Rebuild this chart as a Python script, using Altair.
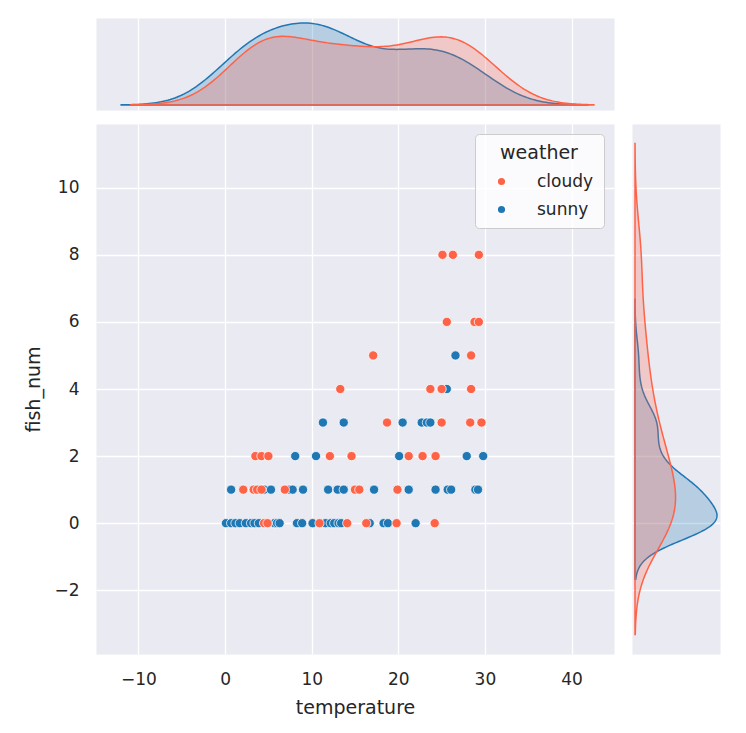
import altair as alt
import numpy as np
import pandas as pd

# scatter values
cloudy_temp = [25.1, 26.3, 29.3, 25.6, 28.8, 29.3, 17.1, 28.4, 13.3, 23.7, 25.0, 28.4,
               18.7, 25.0, 28.3, 29.6, 3.5, 4.2, 5.0, 12.1, 14.6, 21.2, 22.8, 24.3,
               2.1, 3.3, 3.7, 4.2, 6.9, 15.0, 15.5, 19.9,
               4.5, 4.9, 10.9, 14.1, 16.3, 19.8, 24.2]
cloudy_fish = [8, 8, 8, 6, 6, 6, 5, 5, 4, 4, 4, 4,
               3, 3, 3, 3, 2, 2, 2, 2, 2, 2, 2, 2,
               1, 1, 1, 1, 1, 1, 1, 1,
               0, 0, 0, 0, 0, 0, 0]
# cloudy points hidden under sunny ones (estimated from the marginal curves)
cloudy_hidden_temp = [3.0, 5.7, 6.3, 8.3, 8.9, 10.1, 12.2]
cloudy_hidden_fish = [0, 0, 0, 0, 0, 0, 0]
sunny_temp = [26.6, 25.6,
              11.3, 13.7, 20.5, 22.7, 23.3, 23.7,
              8.1, 10.5, 20.1, 27.9, 29.8,
              0.7, 4.5, 5.3, 7.5, 7.8, 9.0, 11.9, 13.0, 13.7, 17.2, 21.2, 24.3,
              25.7, 26.1, 28.9, 29.2,
              0.1, 0.7, 1.2, 1.7, 2.4, 3.0, 3.4, 3.9, 5.7, 6.0, 6.3, 8.3, 8.9,
              10.1, 11.6, 12.2, 12.6, 13.1, 13.4, 16.7, 18.3, 18.8, 22.0]
sunny_fish = [5, 4,
              3, 3, 3, 3, 3, 3,
              2, 2, 2, 2, 2,
              1, 1, 1, 1, 1, 1, 1, 1, 1, 1, 1, 1,
              1, 1, 1, 1,
              0, 0, 0, 0, 0, 0, 0, 0, 0, 0, 0, 0, 0,
              0, 0, 0, 0, 0, 0, 0, 0, 0, 0]

weather_order = ["cloudy", "sunny"]
palette = ["tomato", "#1f77b4"]
x_ticks = [-10, 0, 10, 20, 30, 40]
y_ticks = [-2, 0, 2, 4, 6, 8, 10]

df = pd.concat([
    pd.DataFrame({"temperature": cloudy_hidden_temp, "fish_num": cloudy_hidden_fish, "weather": "cloudy"}),
    pd.DataFrame({"temperature": sunny_temp, "fish_num": sunny_fish, "weather": "sunny"}),
    pd.DataFrame({"temperature": cloudy_temp, "fish_num": cloudy_fish, "weather": "cloudy"}),
], ignore_index=True)

x_scale = alt.Scale(domain=[-14.9, 44.9], nice=False, zero=False)
y_scale = alt.Scale(domain=[-3.9, 11.9], nice=False, zero=False)
FONT = "DejaVu Sans"


def scott_bw(values):
    # same rule as scipy's gaussian_kde
    v = np.asarray(values, dtype=float)
    return float(v.std(ddof=1) * len(v) ** (-1 / 5))


def kde_layer(field, group, color, horizontal=False):
    vals = df.loc[df["weather"] == group, field]
    bw = scott_bw(vals)
    base = alt.Chart(df).transform_filter(
        alt.datum.weather == group
    ).transform_density(
        field, as_=[field, "density"], bandwidth=bw,
        extent=[float(vals.min() - 3 * bw), float(vals.max() + 3 * bw)],
        steps=200,
    )
    if horizontal:
        return base.mark_area(orient="horizontal", fill=color, fillOpacity=0.25,
                              stroke=color, strokeWidth=1.5).encode(
            x=alt.X("density:Q", axis=None, scale=alt.Scale(zero=True, nice=False, padding=3)),
            y=alt.Y(f"{field}:Q", scale=y_scale,
                    axis=alt.Axis(grid=True, labels=False, ticks=False, domain=False,
                                  title=None, values=y_ticks)),
        )
    return base.mark_area(fill=color, fillOpacity=0.25,
                          stroke=color, strokeWidth=1.5).encode(
        x=alt.X(f"{field}:Q", scale=x_scale,
                axis=alt.Axis(grid=True, labels=False, ticks=False, domain=False,
                              title=None, values=x_ticks)),
        y=alt.Y("density:Q", axis=None, scale=alt.Scale(zero=True, nice=False, padding=5)),
    )


# marginals: sunny first, cloudy drawn on top (as seaborn does)
top = alt.layer(
    kde_layer("temperature", "sunny", palette[1]),
    kde_layer("temperature", "cloudy", palette[0]),
).properties(width=518, height=92)

right = alt.layer(
    kde_layer("fish_num", "sunny", palette[1], horizontal=True),
    kde_layer("fish_num", "cloudy", palette[0], horizontal=True),
).properties(width=88, height=530)

blank = alt.Chart(df).mark_point(opacity=0).encode(
    x=alt.X("temperature:Q", axis=None),
    y=alt.Y("fish_num:Q", axis=None),
).properties(width=88, height=92,
             view=alt.ViewBackground(fill="white", stroke="white"))

main = alt.Chart(df).mark_circle(size=85, opacity=1, stroke="white", strokeWidth=0.75).encode(
    x=alt.X("temperature:Q", scale=x_scale,
            axis=alt.Axis(values=x_ticks, title="temperature", labelPadding=17,
                          titlePadding=11)),
    y=alt.Y("fish_num:Q", scale=y_scale,
            axis=alt.Axis(values=y_ticks, title="fish_num", labelPadding=17,
                          titlePadding=10)),
    color=alt.Color("weather:N", sort=weather_order,
                    scale=alt.Scale(domain=weather_order, range=palette),
                    legend=alt.Legend(title="weather", orient="top-right", offset=10,
                                      fillColor="rgba(255,255,255,0.8)",
                                      strokeColor="#cccccc", cornerRadius=4,
                                      padding=10, titleFontSize=19, labelFontSize=17,
                                      titleFontWeight="normal", titleAnchor="middle",
                                      titlePadding=10, symbolType="circle",
                                      symbolSize=75, symbolOffset=8, labelOffset=27,
                                      rowPadding=10, titleFont=FONT, labelFont=FONT,
                                      titleColor="#262626", labelColor="#262626")),
).properties(width=518, height=530)

chart = alt.concat(
    top, blank, main, right, columns=2, bounds="flush",
    spacing=alt.RowColnumber(row=14, column=18),
).resolve_scale(color="independent").resolve_legend(color="independent").properties(
    padding={"left": 16, "top": 6, "right": 5, "bottom": 5},
).configure_view(
    fill="#EAEAF2", stroke="transparent"
).configure_axis(
    domain=False, ticks=False, gridColor="white", gridWidth=1.3,
    labelFont=FONT, titleFont=FONT, labelFontSize=17, titleFontSize=19,
    titleFontWeight="normal", labelColor="#262626", titleColor="#262626",
)

chart.save("out.html", embed_options={"renderer": "svg", "actions": False})
